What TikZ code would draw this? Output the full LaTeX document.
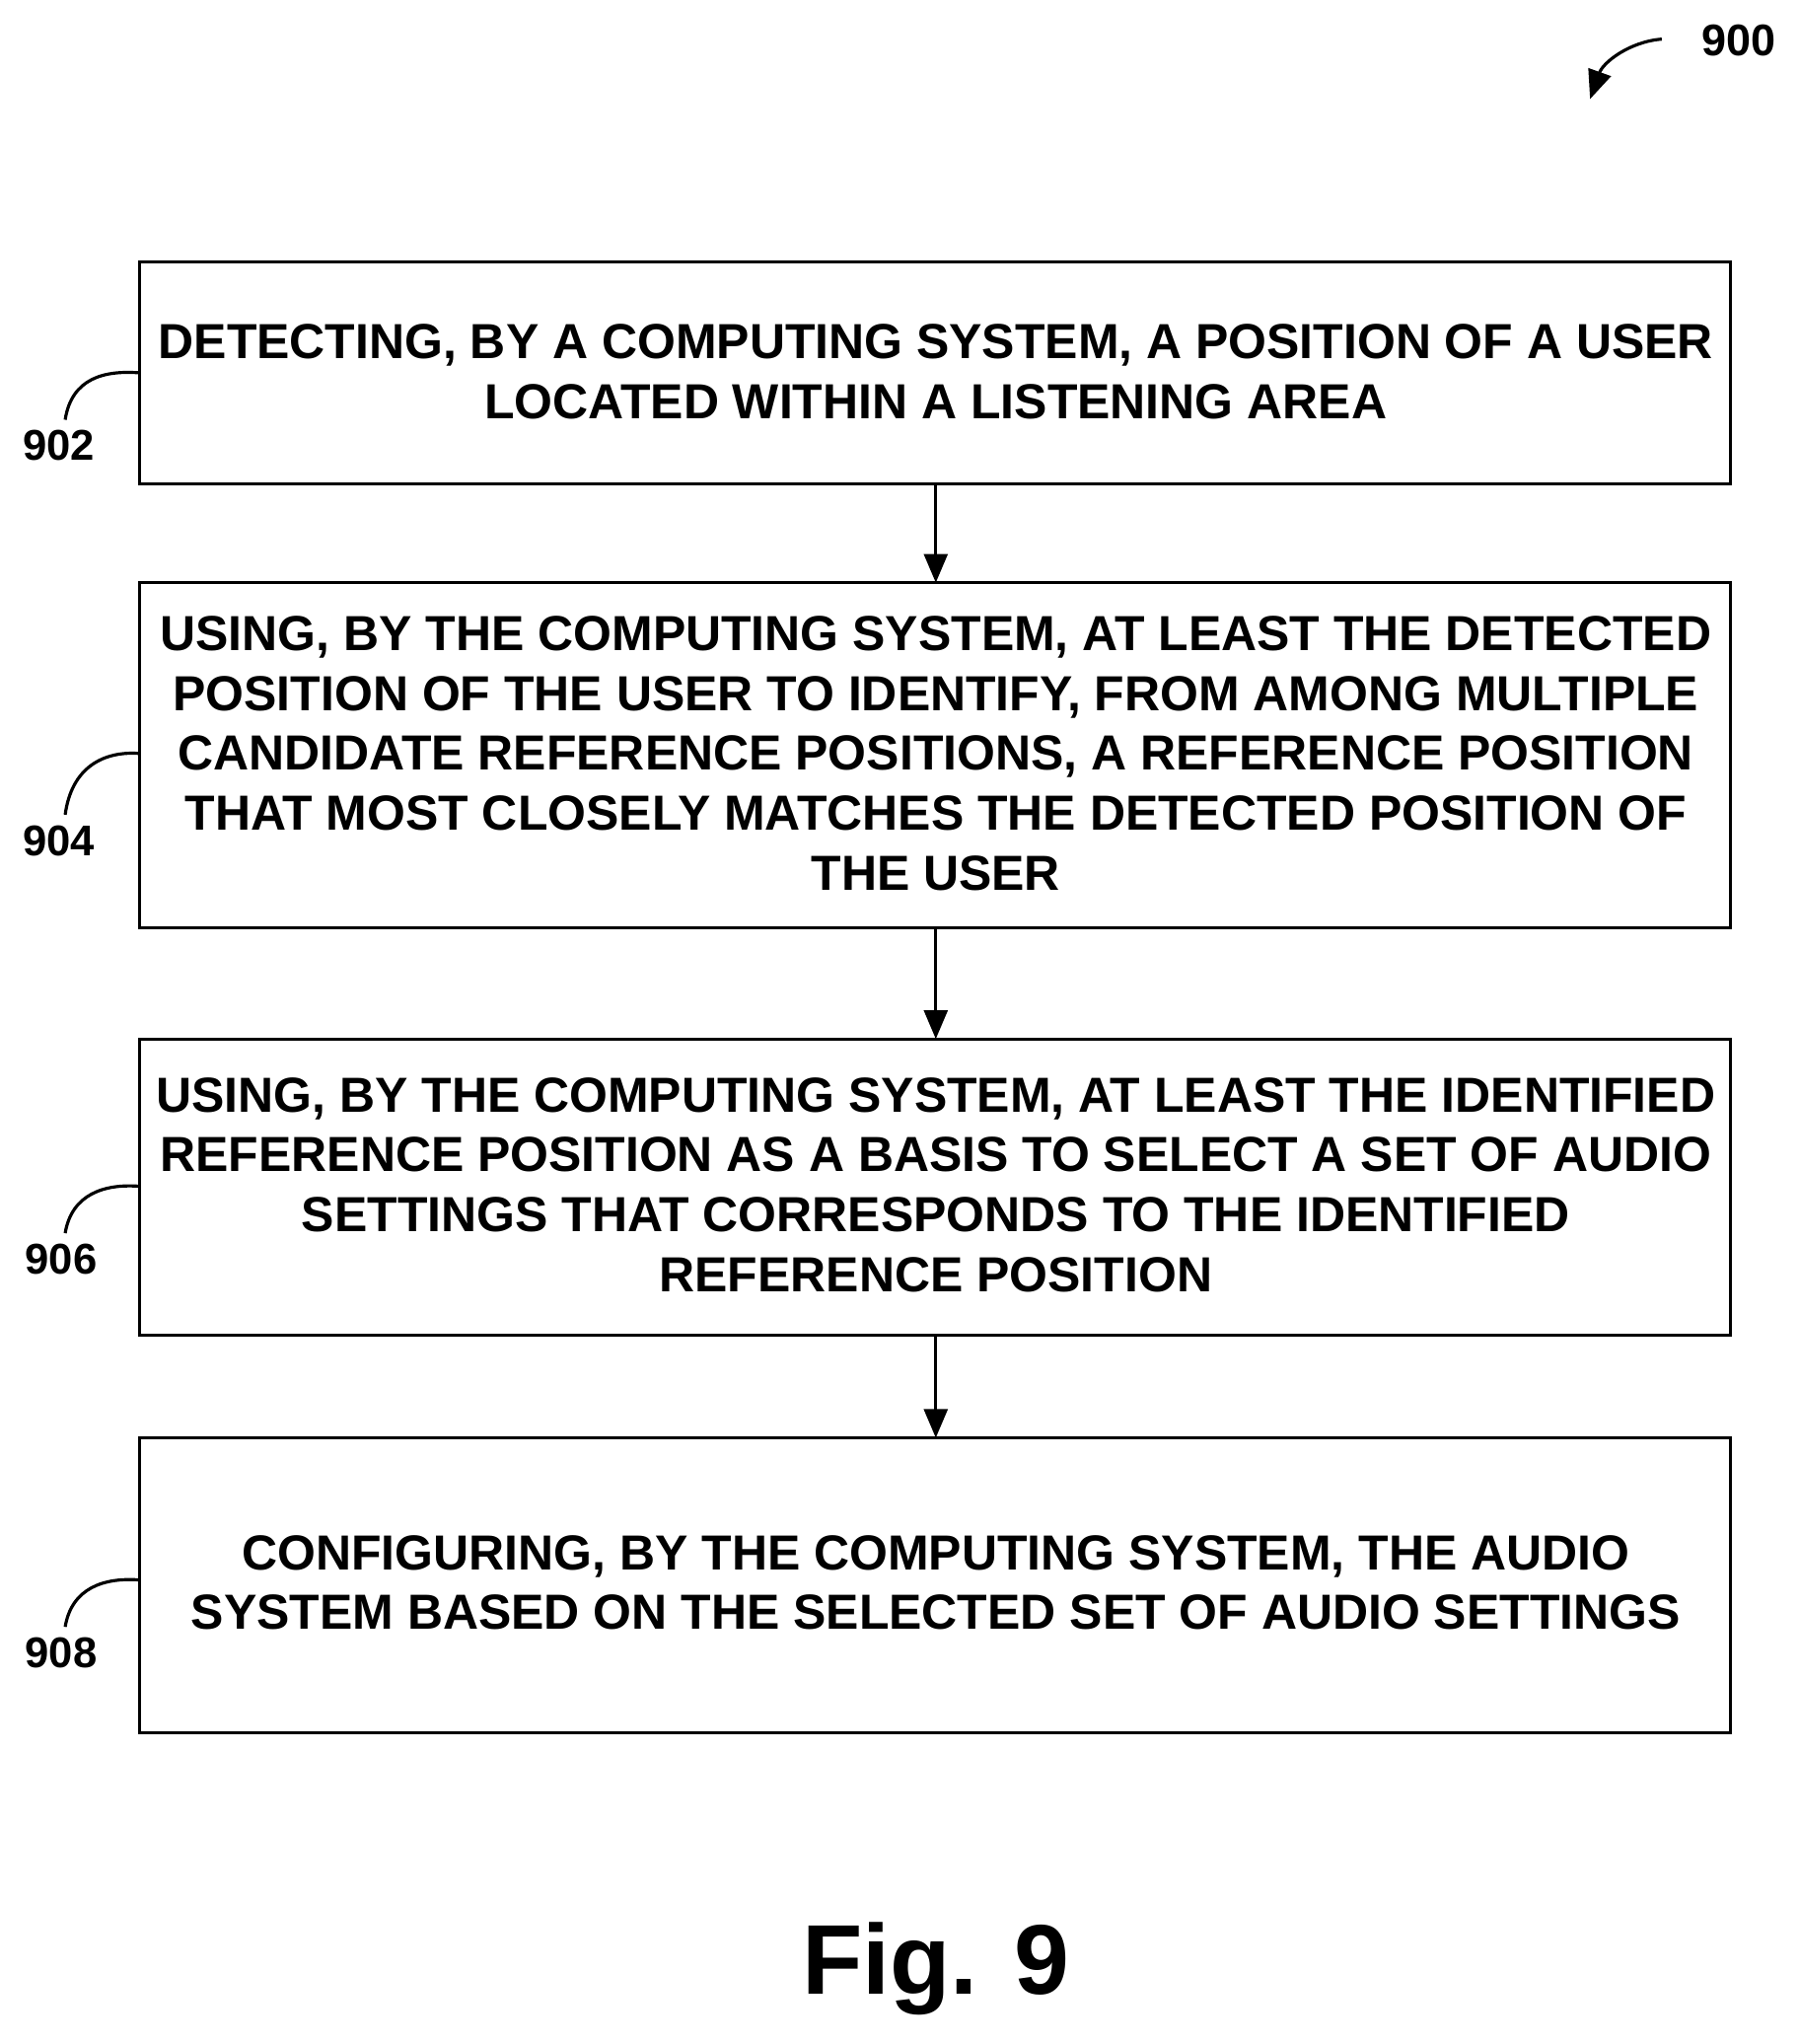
\documentclass[tikz,border=0pt]{standalone}
\usepackage{fontspec}
\setmainfont{Liberation Sans}
\usetikzlibrary{arrows.meta}
\begin{document}
\begin{tikzpicture}[x=0.5pt,y=-0.5pt,
  box/.style={draw,line width=1.2pt,inner sep=0pt},
  txt/.style={align=center,font=\fontsize{18.9}{23}\selectfont\bfseries},
  lab/.style={font=\fontsize{16.5}{18}\selectfont\bfseries},
  arr/.style={line width=1.2pt,-{Triangle[length=11pt,width=9pt]}},
  lead/.style={line width=1.2pt}]
\useasboundingbox (0,0) rectangle (1380,1568);
\draw[box] (107,201) rectangle (1328,371); \coordinate (b1t) at (718,201); \coordinate (b1b) at (718,371);
\draw[box] (107,447) rectangle (1328,712); \coordinate (b2t) at (718,447); \coordinate (b2b) at (718,712);
\draw[box] (107,797) rectangle (1328,1024); \coordinate (b3t) at (718,797); \coordinate (b3b) at (718,1024);
\draw[box] (107,1103) rectangle (1328,1329); \coordinate (b4t) at (718,1103);
\node[txt] (t1) at (718,285) {DETECTING, BY A COMPUTING SYSTEM, A POSITION OF A USER\\LOCATED WITHIN A LISTENING AREA};
\node[txt] (t2) at (718,578) {USING, BY THE COMPUTING SYSTEM, AT LEAST THE DETECTED\\POSITION OF THE USER TO IDENTIFY, FROM AMONG MULTIPLE\\CANDIDATE REFERENCE POSITIONS, A REFERENCE POSITION\\THAT MOST CLOSELY MATCHES THE DETECTED POSITION OF\\THE USER};
\node[txt] (t3) at (718,909) {USING, BY THE COMPUTING SYSTEM, AT LEAST THE IDENTIFIED\\REFERENCE POSITION AS A BASIS TO SELECT A SET OF AUDIO\\SETTINGS THAT CORRESPONDS TO THE IDENTIFIED\\REFERENCE POSITION};
\node[txt] (t4) at (718,1214) {CONFIGURING, BY THE COMPUTING SYSTEM, THE AUDIO\\SYSTEM BASED ON THE SELECTED SET OF AUDIO SETTINGS};
\draw[arr] (b1b) -- (b2t);
\draw[arr] (b2b) -- (b3t);
\draw[arr] (b3b) -- (b4t);
\node[lab] (l902) at (45,342) {902};
\node[lab] (l904) at (45,645) {904};
\node[lab] (l906) at (47,966) {906};
\node[lab] (l908) at (47,1268) {908};
\draw[lead] (50,322) .. controls (55,290) and (80,284) .. (107,286);
\draw[lead] (50,625) .. controls (55,588) and (80,576) .. (107,578);
\draw[lead] (50,946) .. controls (55,916) and (80,908) .. (107,910);
\draw[lead] (50,1248) .. controls (55,1218) and (80,1210) .. (107,1212);
\node[lab,font=\fontsize{17}{18}\selectfont\bfseries] (l900) at (1334,31) {900};
\draw[line width=1.2pt,-{Triangle[length=11pt,width=9pt]}] (1275,30) .. controls (1250,32) and (1230,48) .. (1220,76);
\node[font=\fontsize{38}{44}\selectfont\bfseries] (fig) at (718,1510) {Fig. 9};
\end{tikzpicture}
\end{document}
